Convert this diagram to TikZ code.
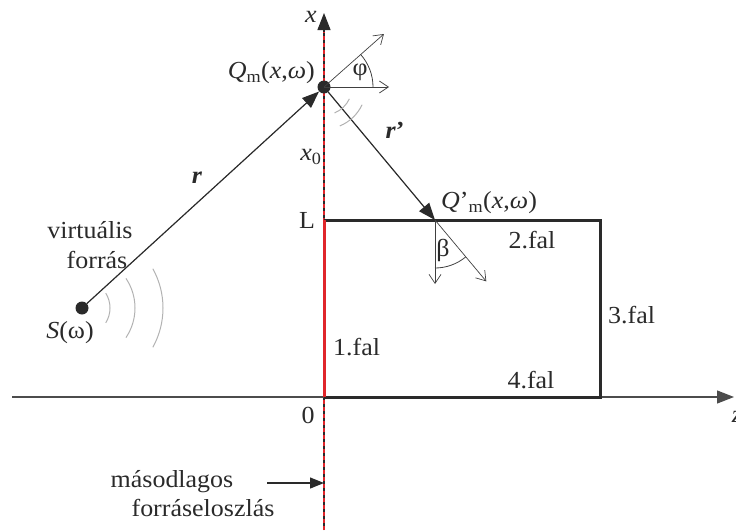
\documentclass[tikz,border=0pt]{standalone}
\usepackage{fontspec}
\setmainfont{Liberation Serif}[FakeStretch=1.06]
\usetikzlibrary{arrows.meta,calc}
\definecolor{ink}{HTML}{2A2A2A}
\definecolor{wallred}{HTML}{E0262B}
\begin{document}
\begin{tikzpicture}[x=1pt,y=-1pt,
  lbl/.style={inner sep=0pt, font=\fontsize{24.5}{29}\selectfont, text=ink},
  dot/.style={circle, fill=ink, inner sep=0pt, minimum size=13pt},
  axis/.style={draw=black!70, line width=1.1pt},
  wall/.style={draw=ink, line width=3pt},
  ray/.style={draw=ink, line width=1.2pt},
  barb/.style={draw=black!75, line width=0.7pt, -{Straight Barb[length=9pt,width=12pt]}},
  wave/.style={draw=black!30, line width=1pt},
  bigtip/.style={-{Triangle[length=17pt,width=13pt]}}
]
\useasboundingbox (0,0) rectangle (736,530);
% coordinates
\coordinate (axtop) at (324,13);
\coordinate (axbot) at (324,530);
\coordinate (zl) at (12,397);
\coordinate (zr) at (734,397);
\coordinate (O) at (324,397);
\coordinate (Lc) at (324,220);
\coordinate (R1) at (600,220);
\coordinate (R2) at (600,397);
% axes
\draw[axis, bigtip, draw=ink, fill=ink] (axbot) -- (axtop);
\draw[wallred, line width=1.2pt, dash pattern=on 4pt off 3pt] (axbot) -- (324,32);
\draw[axis, bigtip, fill=ink] (zl) -- (zr);
% walls
\draw[wall] (Lc) -- (R1) -- (R2) -- (O);
\draw[wallred, line width=3pt] (O) -- (Lc);
% points
\node[dot] (S) at (82,308) {};
\node[dot] (Qm) at (324,87) {};
\coordinate (Qp) at (435,220);
\draw[ray, bigtip, fill=ink] (S) -- (Qm);
\draw[ray, bigtip, fill=ink] (Qm) -- (Qp);
% phi
\coordinate (phiH) at (389,87);
\coordinate (phiD) at ($(Qm.center)+(-41.5:80)$);
\draw[barb] (Qm.center) -- (phiH);
\draw[barb] (Qm.center) -- (phiD);
\draw[draw=black!75, line width=0.8pt] (Qm.center) ++(0:49) arc[start angle=0, end angle=-41.5, radius=49];
% beta
\coordinate (betaV) at (435,284);
\coordinate (betaD) at ($(Qp)+(50.1:80)$);
\draw[barb] (Qp) -- (betaV);
\draw[barb] (Qp) -- (betaD);
\draw[draw=black!75, line width=0.8pt] (Qp) ++(90:48) arc[start angle=90, end angle=50.1, radius=48];
% waves
\foreach \r/\a in {28/32, 53/34, 81/29}
  \draw[wave] (S.center) ++(-\a:\r) arc[start angle=-\a, end angle=\a, radius=\r];
\foreach \r in {28, 42}
  \draw[wave] (Qm.center) ++(25:\r) arc[start angle=25, end angle=68, radius=\r];
% labels
\node[lbl] (xl) at (311,17) {\textit{x}};
\node[lbl, anchor=east] (qml) at (315,73) {\textit{Q}\textsubscript{m}(\textit{x},\textit{ω})};
\node[lbl] (x0l) at (311,157) {\textit{x}\textsubscript{0}};
\node[lbl] (Ll) at (307,220) {L};
\node[lbl] (zero) at (308,415) {0};
\node[lbl] (zlab) at (737,417) {\textit{z}};
\node[lbl] (rl) at (197,178) {\textbf{\textit{r}}};
\node[lbl] (rpl) at (395,130) {\textbf{\textit{r}}\textbf{’}};
\node[lbl, anchor=west] (qpl) at (441,203) {\textit{Q}’\textsubscript{m}(\textit{x},\textit{ω})};
\node[lbl] (phil) at (360,72) {φ};
\node[lbl] (betal) at (443,250) {β};
\node[lbl] (v1) at (90,230) {virtuális};
\node[lbl] (v2) at (97,260) {forrás};
\node[lbl] (Sl) at (70,333) {\textit{S}(ω)};
\node[lbl, anchor=west] (f1) at (333,347) {1.fal};
\node[lbl] (f2) at (532,240) {2.fal};
\node[lbl, anchor=west] (f3) at (608,315) {3.fal};
\node[lbl] (f4) at (531,380) {4.fal};
\node[lbl] (m1) at (172,482) {másodlagos};
\node[lbl] (m2) at (203,508) {forráseloszlás};
\coordinate (ms) at (267,483);
\coordinate (me) at (324,483);
\draw[ray, -{Triangle[length=14pt,width=11pt]}, fill=ink] (ms) -- (me);
\end{tikzpicture}
\end{document}
